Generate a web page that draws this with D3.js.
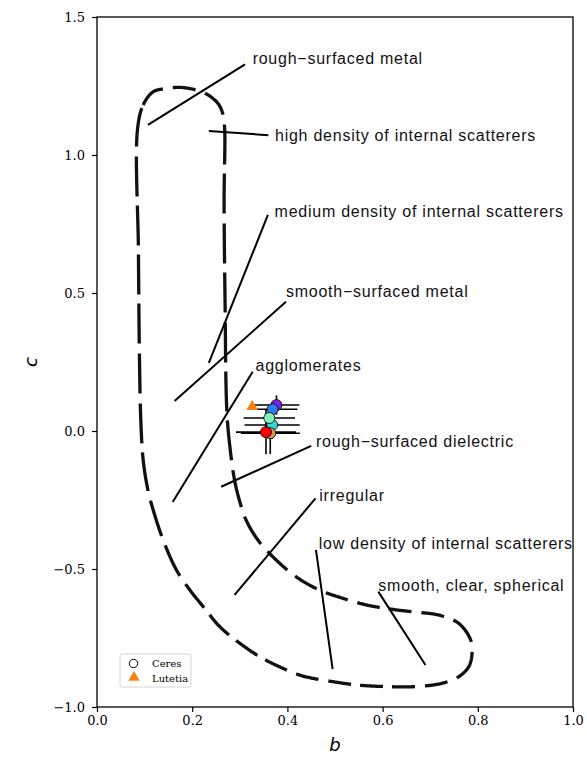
<!DOCTYPE html>
<html>
<head>
<meta charset="utf-8">
<script src="https://cdn.jsdelivr.net/npm/d3@7"></script>
<style>
  body { margin: 0; background: #fff; }
</style>
</head>
<body>
<script>
// ---- data ----
const tickB = [0.0, 0.2, 0.4, 0.6, 0.8, 1.0];
const tickC = [-1.0, -0.5, 0.0, 0.5, 1.0, 1.5];

// Ceres measurements (b, c) with errors
const ceresB    = [0.377, 0.369, 0.368, 0.362, 0.364, 0.355];
const ceresC    = [0.094, 0.079, 0.022, 0.047, -0.008, -0.004];
const ceresBErr = [0.048, 0.052, 0.058, 0.054, 0.062, 0.063];
const ceresCErr = [0.035, 0.030, 0.050, 0.040, 0.075, 0.080];
const ceresColors = ["#7d22e3", "#2d7cf0", "#30d6da", "#80f0b4", "#cf9a55", "#ff0000"];

const lutetiaB = [0.326];
const lutetiaC = [0.088];

// hockey-stick contour (traced)
const contourB = [0.085, 0.097, 0.118, 0.146, 0.174, 0.202, 0.230, 0.254, 0.264, 0.268,
  0.267, 0.269, 0.273, 0.280, 0.289, 0.299, 0.313, 0.338, 0.369, 0.418,
  0.467, 0.516, 0.565, 0.620, 0.662, 0.718, 0.760, 0.785, 0.788, 0.781,
  0.760, 0.725, 0.670, 0.607, 0.544, 0.495, 0.453, 0.425, 0.383, 0.342,
  0.300, 0.258, 0.223, 0.195, 0.167, 0.139, 0.118, 0.107, 0.097, 0.092,
  0.089, 0.087];
const contourC = [1.091, 1.181, 1.229, 1.241, 1.245, 1.238, 1.221, 1.187, 1.151, 1.101,
  0.836, 0.474, 0.065, -0.069, -0.178, -0.250, -0.322, -0.395, -0.455, -0.528,
  -0.576, -0.606, -0.630, -0.646, -0.655, -0.667, -0.697, -0.757, -0.804, -0.854,
  -0.890, -0.914, -0.926, -0.926, -0.920, -0.908, -0.896, -0.884, -0.854, -0.818,
  -0.769, -0.709, -0.636, -0.576, -0.504, -0.395, -0.286, -0.214, -0.105, 0.040,
  0.293, 0.656];

// region labels and their leader lines
const labelTexts = ["rough\u2212surfaced metal", "high density of internal scatterers",
  "medium density of internal scatterers", "smooth\u2212surfaced metal", "agglomerates",
  "rough\u2212surfaced dielectric", "irregular", "low density of internal scatterers",
  "smooth, clear, spherical"];
const labelB = [0.327, 0.374, 0.373, 0.397, 0.333, 0.460, 0.467, 0.466, 0.591];
const labelC = [1.351, 1.072, 0.795, 0.505, 0.239, -0.036, -0.232, -0.407, -0.558];
const leaderB1 = [0.311, 0.360, 0.359, 0.397, 0.327, 0.450, 0.459, 0.460, 0.591];
const leaderC1 = [1.328, 1.072, 0.783, 0.468, 0.215, -0.054, -0.244, -0.431, -0.582];
const leaderB2 = [0.107, 0.235, 0.235, 0.163, 0.159, 0.261, 0.289, 0.495, 0.690];
const leaderC2 = [1.109, 1.087, 0.247, 0.109, -0.257, -0.202, -0.594, -0.863, -0.848];

// ---- chart ----
const W = 587, H = 761;
const margin = {top: 17, right: 14, bottom: 54, left: 97};

const svg = d3.select("body").append("svg")
    .attr("width", W)
    .attr("height", H);

const x = d3.scaleLinear().domain([0, 1]).range([margin.left, W - margin.right]);
const y = d3.scaleLinear().domain([-1, 1.5]).range([H - margin.bottom, margin.top]);

const serif = "'DejaVu Serif', serif";
const sans = "'Liberation Sans', Arial, sans-serif";

// contour: the original drawing has longer dashes on the steep parts,
// so dashes are cut by hand along the curve (vertical runs count less)
const contourPts = contourB.map(function(b, i){ return [b, contourC[i]]; });
const guide = svg.append("path")
    .datum(contourPts)
    .attr("d", d3.line()
        .x(function(d){ return x(d[0]); })
        .y(function(d){ return y(d[1]); })
        .curve(d3.curveCatmullRomClosed))
    .attr("fill", "none")
    .attr("stroke", "none");

const node = guide.node();
const total = node.getTotalLength();
const dashLen = 22, gapLen = 9, vStretch = 1.8;
const dashes = [];
let cur = [], acc = 0, inDash = true;
let prev = node.getPointAtLength(0);
cur.push([prev.x, prev.y]);
for (let s = 1; s <= total; s += 1) {
  const p = node.getPointAtLength(s);
  const dx = p.x - prev.x, dy = p.y - prev.y;
  if (inDash) {
    acc += Math.sqrt(dx * dx + (dy / vStretch) * (dy / vStretch));
    cur.push([p.x, p.y]);
    if (acc >= dashLen) { dashes.push(cur); cur = []; acc = 0; inDash = false; }
  } else {
    acc += Math.sqrt(dx * dx + dy * dy);
    if (acc >= gapLen) { cur = [[p.x, p.y]]; acc = 0; inDash = true; }
  }
  prev = p;
}
if (inDash && cur.length > 1) dashes.push(cur);

svg.append("g").selectAll("path")
    .data(dashes).enter().append("path")
    .attr("d", d3.line())
    .attr("fill", "none")
    .attr("stroke", "#111")
    .attr("stroke-width", 3.3);

// leader lines
svg.append("g").selectAll("line")
    .data(labelTexts)
    .enter().append("line")
    .attr("x1", function(d, i){ return x(leaderB1[i]); })
    .attr("y1", function(d, i){ return y(leaderC1[i]); })
    .attr("x2", function(d, i){ return x(leaderB2[i]); })
    .attr("y2", function(d, i){ return y(leaderC2[i]); })
    .attr("stroke", "#000")
    .attr("stroke-width", 2);

svg.append("g").selectAll("text")
    .data(labelTexts)
    .enter().append("text")
    .attr("x", function(d, i){ return x(labelB[i]); })
    .attr("y", function(d, i){ return y(labelC[i]); })
    .attr("dy", "0.35em")
    .attr("font-family", sans)
    .attr("font-size", "16px")
    .attr("letter-spacing", "0.75px")
    .attr("fill", "#111")
    .text(function(d){ return d; });

// error bars
const ceres = ceresB.map(function(b, i){
  return {b: b, c: ceresC[i], eb: ceresBErr[i], ec: ceresCErr[i], color: ceresColors[i]};
});
const eg = svg.append("g");
eg.selectAll(".hbar").data(ceres).enter().append("line")
    .attr("x1", function(d){ return x(d.b - d.eb); })
    .attr("x2", function(d){ return x(d.b + d.eb); })
    .attr("y1", function(d){ return y(d.c); })
    .attr("y2", function(d){ return y(d.c); })
    .attr("stroke", "#000").attr("stroke-width", 1.6);
eg.selectAll(".vbar").data(ceres).enter().append("line")
    .attr("x1", function(d){ return x(d.b); })
    .attr("x2", function(d){ return x(d.b); })
    .attr("y1", function(d){ return y(d.c - d.ec); })
    .attr("y2", function(d){ return y(d.c + d.ec); })
    .attr("stroke", "#000").attr("stroke-width", 1.6);

svg.append("g").selectAll("circle")
    .data(ceres).enter().append("circle")
    .attr("cx", function(d){ return x(d.b); })
    .attr("cy", function(d){ return y(d.c); })
    .attr("r", 5.5)
    .attr("fill", function(d){ return d.color; })
    .attr("stroke", "#000")
    .attr("stroke-width", 0.8);

const tri = d3.symbol().type(d3.symbolTriangle).size(60);
svg.append("g").selectAll("path")
    .data(lutetiaB).enter().append("path")
    .attr("d", tri)
    .attr("transform", function(d, i){ return "translate(" + x(d) + "," + y(lutetiaC[i]) + ")"; })
    .attr("fill", "#ff7f0e");

// frame
svg.append("rect")
    .attr("x", margin.left).attr("y", margin.top)
    .attr("width", W - margin.left - margin.right)
    .attr("height", H - margin.top - margin.bottom)
    .attr("fill", "none").attr("stroke", "#000").attr("stroke-width", 1.3);

// axes
const fmt = d3.format(".1f");
const xAxis = svg.append("g")
    .attr("transform", "translate(0," + (H - margin.bottom) + ")")
    .call(d3.axisBottom(x).tickValues(tickB).tickFormat(fmt).tickSize(5).tickPadding(4));
const yAxis = svg.append("g")
    .attr("transform", "translate(" + margin.left + ",0)")
    .call(d3.axisLeft(y).tickValues(tickC).tickFormat(fmt).tickSize(5).tickPadding(7));
[xAxis, yAxis].forEach(function(a){
  a.select(".domain").remove();
  a.selectAll(".tick line").attr("stroke", "#000").attr("stroke-width", 1.2);
  a.selectAll(".tick text").attr("font-family", serif).attr("font-size", "13px").attr("fill", "#000");
});

svg.append("text")
    .attr("x", (margin.left + W - margin.right) / 2)
    .attr("y", 751)
    .attr("text-anchor", "middle")
    .attr("font-family", "'DejaVu Sans', sans-serif")
    .attr("font-style", "italic")
    .attr("font-size", "18px")
    .text("b");

svg.append("text")
    .attr("transform", "translate(37," + ((margin.top + H - margin.bottom) / 2) + ") rotate(-90)")
    .attr("text-anchor", "middle")
    .attr("font-family", "'DejaVu Sans', sans-serif")
    .attr("font-style", "italic")
    .attr("font-size", "18px")
    .text("c");

// legend
const lg = svg.append("g").attr("transform", "translate(120,654)");
lg.append("rect")
    .attr("width", 71).attr("height", 33).attr("rx", 2)
    .attr("fill", "#fff").attr("stroke", "#d6d6d6").attr("stroke-width", 1);
lg.append("circle")
    .attr("cx", 13.5).attr("cy", 9.5).attr("r", 4.2)
    .attr("fill", "none").attr("stroke", "#000").attr("stroke-width", 1);
lg.append("path")
    .attr("d", d3.symbol().type(d3.symbolTriangle).size(55))
    .attr("transform", "translate(14,23.5)")
    .attr("fill", "#ff7f0e");
lg.selectAll("text")
    .data(["Ceres", "Lutetia"]).enter().append("text")
    .attr("x", 32)
    .attr("y", function(d, i){ return 9.5 + i * 14.5; })
    .attr("dy", "0.35em")
    .attr("font-family", serif)
    .attr("font-size", "10px")
    .text(function(d){ return d; });
</script>
</body>
</html>
